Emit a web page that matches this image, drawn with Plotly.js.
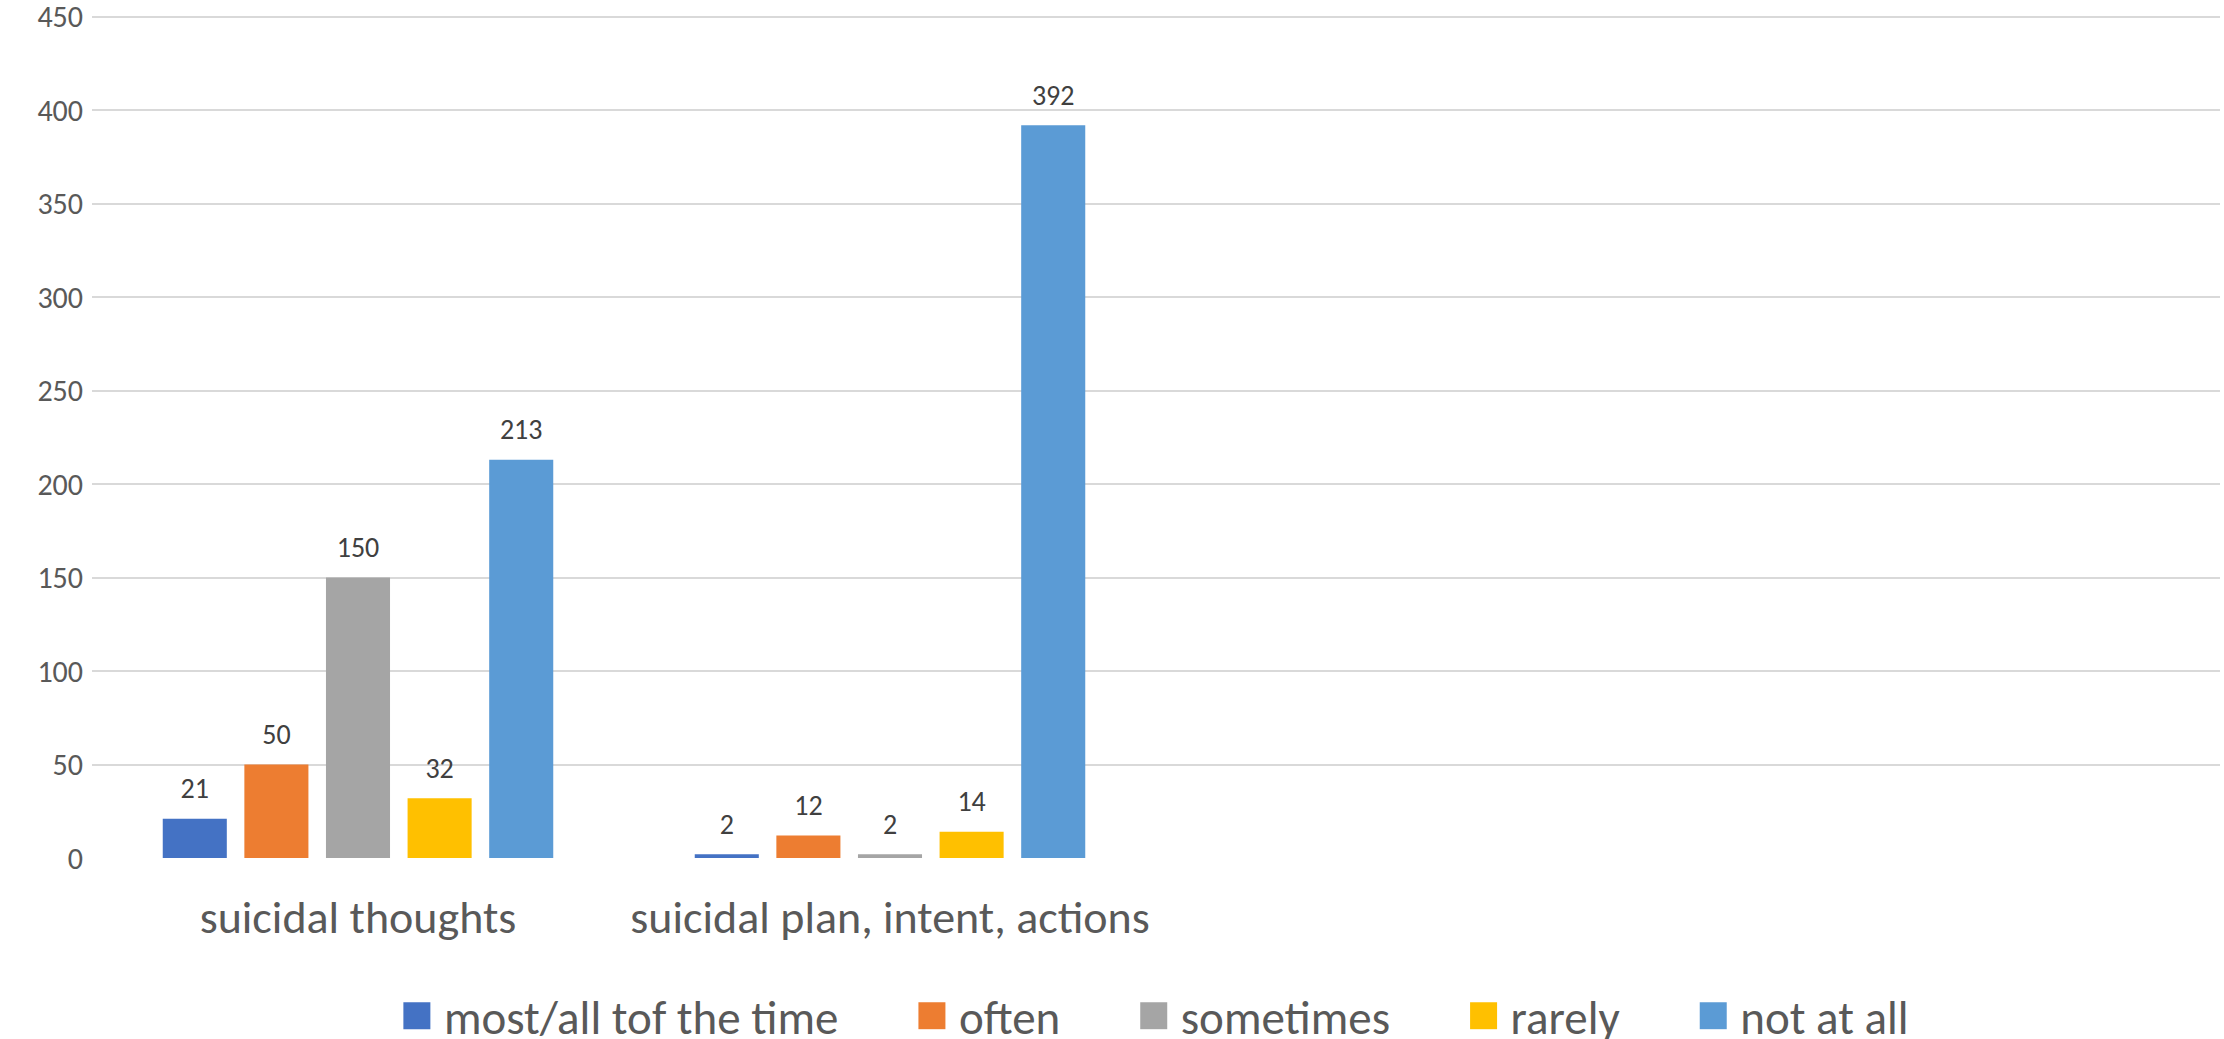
<!DOCTYPE html>
<html>
<head>
<meta charset="utf-8">
<script src="https://cdn.plot.ly/plotly-3.0.1.min.js"></script>
<style>
  html, body { margin: 0; padding: 0; background: #ffffff; }
  #chart { width: 2224px; height: 1039px; }
</style>
</head>
<body>
<div id="chart"></div>
<script>
// Response frequency for each question, one series per answer option
const categories = ['suicidal thoughts', 'suicidal plan, intent, actions'];
// two further (empty) category slots keep the wide Excel-style spacing
const categorySlots = ['suicidal thoughts', 'suicidal plan, intent, actions', 'slot3', 'slot4'];

const seriesNames = ['most/all tof the time', 'often', 'sometimes', 'rarely', 'not at all'];
const mostAll   = [21, 2];
const often     = [50, 12];
const sometimes = [150, 2];
const rarely    = [32, 14];
const notAtAll  = [213, 392];

const seriesValues = [mostAll, often, sometimes, rarely, notAtAll];
const seriesColors = ['#4472C4', '#ED7D31', '#A5A5A5', '#FFC000', '#5B9BD5'];

const yTicks = [0, 50, 100, 150, 200, 250, 300, 350, 400, 450];

const FONT = 'Calibri, Carlito, Lato, sans-serif';
const GROUP_GAP = 0.233;

// bars
const barTraces = seriesNames.map((name, i) => ({
  type: 'bar',
  name: name,
  x: categories,
  y: seriesValues[i],
  offsetgroup: 'g' + i,
  marker: { color: seriesColors[i], line: { width: 0 } },
  hoverinfo: 'x+y+name'
}));

// value labels, placed over each bar through its offset group
const labelTraces = seriesNames.map((name, i) => ({
  type: 'scatter',
  mode: 'markers+text',
  name: name,
  x: categories,
  y: seriesValues[i],
  offsetgroup: 'g' + i,
  text: seriesValues[i].map(String),
  textposition: 'top center',
  textfont: { family: FONT, size: 28, color: '#404040' },
  marker: { size: 20, opacity: 0, color: seriesColors[i] },
  cliponaxis: false,
  showlegend: false,
  hoverinfo: 'skip'
}));

const layout = {
  width: 2224,
  height: 1039,
  paper_bgcolor: '#ffffff',
  plot_bgcolor: '#ffffff',
  margin: { l: 92, r: 4, t: 15, b: 181 },
  barmode: 'group',
  bargap: GROUP_GAP,
  bargroupgap: 0.215,
  scattermode: 'group',
  scattergap: GROUP_GAP,
  font: { family: FONT, color: '#595959' },
  xaxis: {
    type: 'category',
    categoryorder: 'array',
    categoryarray: categorySlots,
    range: [-0.5, 3.5],
    tickvals: categories,
    ticktext: categories,
    tickfont: { family: FONT, size: 46, color: '#595959' },
    ticks: '',
    ticklabelstandoff: 28,
    showgrid: false,
    zeroline: false,
    showline: false
  },
  yaxis: {
    range: [0, 451],
    tickvals: yTicks,
    ticktext: yTicks.map(String),
    tickfont: { family: FONT, size: 30, color: '#595959' },
    ticks: '',
    ticklabelstandoff: 8,
    ticklabeloverflow: 'allow',
    showgrid: true,
    gridcolor: '#D9D9D9',
    gridwidth: 2,
    zeroline: false,
    showline: false
  },
  legend: {
    orientation: 'h',
    xref: 'paper',
    x: 0.5,
    xanchor: 'center',
    yref: 'container',
    y: 0.022,
    yanchor: 'middle',
    font: { family: FONT, size: 47, color: '#595959' },
    traceorder: 'normal'
  },
  showlegend: true
};

function parseTranslate(el) {
  const tr = el.getAttribute('transform') || '';
  const m = tr.match(/translate\(([-\d.]+)[ ,]*([-\d.]*)\)/);
  return m ? [parseFloat(m[1]) || 0, parseFloat(m[2]) || 0] : [0, 0];
}

// Larger square swatches and wider spacing between legend entries
function styleLegend(gd) {
  const legend = gd.querySelector('.legend');
  if (!legend) return;
  const items = Array.from(legend.querySelectorAll('g.traces'));
  const half = 13.5;       // swatch half-size
  const swatchCx = 20;     // swatch centre inside an entry
  const textX = 47;        // text start inside an entry
  const entryGap = 80;     // text end to next swatch
  let x = 0, lastEnd = 0;
  items.forEach(g => {
    const sw = g.querySelector('.legendpoints path');
    if (sw) sw.setAttribute('d', `M${half},${half}H${-half}V${-half}H${half}Z`);
    const t = g.querySelector('text.legendtext');
    if (t) t.setAttribute('x', textX);
    const y = parseTranslate(g)[1];
    g.setAttribute('transform', `translate(${x},${y})`);
    const w = t ? t.getComputedTextLength() : 0;
    lastEnd = x + textX + w;
    x = lastEnd + entryGap - (swatchCx - half);
  });

  // let the legend box and its clip region span the re-spaced entries
  const boxW = lastEnd + 40;
  const bg = legend.querySelector('rect.bg');
  const bgH = bg ? parseFloat(bg.getAttribute('height')) || 60 : 60;
  if (bg) { bg.setAttribute('x', -10); bg.setAttribute('width', boxW); }
  legend.querySelectorAll('[clip-path]').forEach(el => {
    const m = (el.getAttribute('clip-path') || '').match(/url\(['"]?#([^'")]+)['"]?\)/);
    const cp = m ? document.getElementById(m[1]) : null;
    const r = cp ? cp.querySelector('rect') : null;
    if (r) {
      r.setAttribute('x', -10);
      r.setAttribute('width', boxW);
      r.setAttribute('y', -10);
      r.setAttribute('height', bgH + 20);
    }
  });

  // centre the entries under the plot area
  const first = items[0].querySelector('.legendpoints path').getBoundingClientRect();
  const lastT = items[items.length - 1].querySelector('text.legendtext').getBoundingClientRect();
  const fl = gd._fullLayout;
  const plotCx = fl._size.l + fl._size.w / 2;
  const dx = plotCx - (first.left + lastT.right) / 2;
  const [lx, ly] = parseTranslate(legend);
  legend.setAttribute('transform', `translate(${lx + dx},${ly})`);
}

Plotly.newPlot('chart', barTraces.concat(labelTraces), layout, { staticPlot: true, displayModeBar: false })
  .then(styleLegend);
</script>
</body>
</html>
